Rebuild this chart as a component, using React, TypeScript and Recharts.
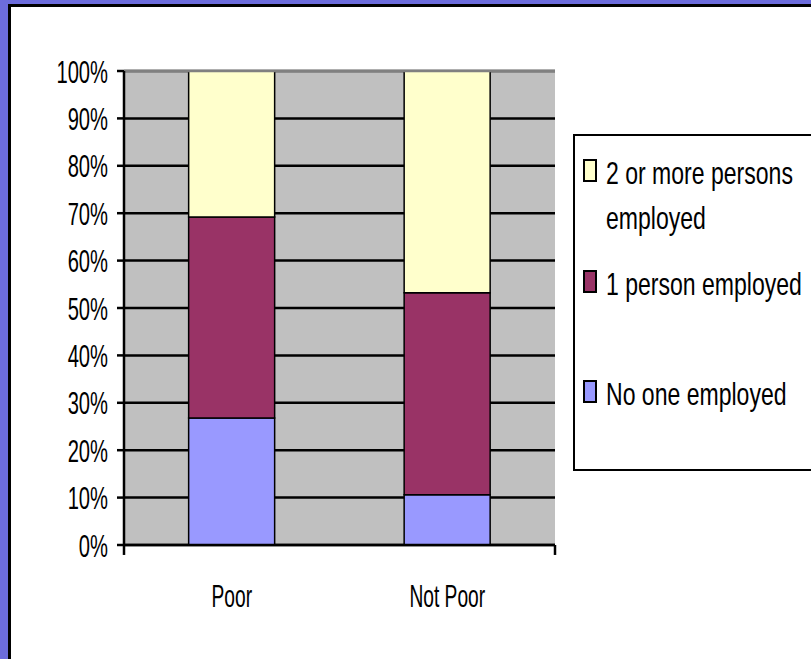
import React from "react";
import {
  BarChart,
  Bar,
  XAxis,
  YAxis,
  CartesianGrid,
  Legend,
  ReferenceLine,
} from "recharts";

const categories = ["Poor", "Not Poor"];
const noOneEmployed = [26.8, 10.6];
const onePersonEmployed = [42.4, 42.6];
const twoOrMoreEmployed = [30.8, 46.8];
const seriesNames = ["No one employed", "1 person employed", "2 or more persons employed"];
const yTicks = [0, 10, 20, 30, 40, 50, 60, 70, 80, 90, 100];
const categoryEdges = [0, 1, 2];

const data = categories.map((name, i) => ({
  name,
  none: noOneEmployed[i],
  one: onePersonEmployed[i],
  two: twoOrMoreEmployed[i],
}));

const FONT = "'Liberation Sans', Arial, sans-serif";

function YTick({ x, y, payload }: any) {
  return (
    <text
      transform={`translate(${x},${y}) scale(0.63,1)`}
      textAnchor="end"
      dy="0.36em"
      fontSize={32}
      fontFamily={FONT}
      fill="#000"
    >
      {`${payload.value}%`}
    </text>
  );
}

function XTick({ x, y, payload }: any) {
  return (
    <text
      transform={`translate(${x},${y}) scale(0.6,1)`}
      textAnchor="middle"
      dy="0.71em"
      fontSize={32}
      fontFamily={FONT}
      fill="#000"
    >
      {payload.value}
    </text>
  );
}

// break long names the way the legend box does
function wrap(text: string, maxChars: number) {
  const lines: string[] = [];
  let cur = "";
  for (const w of text.split(" ")) {
    const next = cur ? cur + " " + w : w;
    if (next.length > maxChars && cur) {
      lines.push(cur);
      cur = w;
    } else cur = next;
  }
  if (cur) lines.push(cur);
  return lines;
}

const itemTops = [24, 135, 245];

function LegendBox({ payload }: any) {
  // top of the stack first
  const items = [...(payload || [])].sort(
    (a: any, b: any) => seriesNames.indexOf(b.value) - seriesNames.indexOf(a.value)
  );
  return (
    <div
      style={{
        width: 300,
        height: 333,
        border: "2.5px solid #000",
        background: "#fff",
      }}
    >
      <svg width={300} height={333}>
        {items.map((item: any, i: number) => {
          const top = itemTops[i];
          const lines = wrap(String(item.value), 18);
          return (
            <g key={item.value}>
              <rect
                x={9}
                y={top}
                width={12}
                height={21}
                fill={item.color}
                stroke="#000"
                strokeWidth={2}
              />
              {lines.map((ln, j) => (
                <text
                  key={j}
                  transform={`translate(31,${top + 24 + j * 45}) scale(0.72,1)`}
                  fontSize={32}
                  fontFamily={FONT}
                  fill="#000"
                >
                  {ln}
                </text>
              ))}
            </g>
          );
        })}
      </svg>
    </div>
  );
}

export default function App() {
  return (
    <div
      style={{
        position: "fixed",
        left: 0,
        top: 0,
        width: 811,
        height: 659,
        overflow: "hidden",
        background: "#6c6cdc",
      }}
    >
      <div
        style={{
          position: "absolute",
          left: 8,
          top: 4,
          width: 820,
          height: 680,
          background: "#fff",
          border: "3px solid #000",
        }}
      />
      <div style={{ position: "absolute", left: 0, top: 0 }}>
        <BarChart
          width={811}
          height={659}
          data={data}
          margin={{ top: 71, right: 256, bottom: 34, left: 54 }}
          barCategoryGap="30%"
        >
          <CartesianGrid
            xAxisId="cat"
            vertical={false}
            fill="#c0c0c0"
            stroke="#000"
            strokeWidth={2.5}
            fillOpacity={1}
          />
          <XAxis
            xAxisId="cat"
            dataKey="name"
            height={80}
            tickLine={false}
            tickSize={0}
            tickMargin={39}
            tick={<XTick />}
            axisLine={{ stroke: "#000", strokeWidth: 2.5 }}
          />
          <XAxis
            xAxisId="edges"
            type="number"
            domain={[0, 2]}
            ticks={categoryEdges}
            hide
          />
          <YAxis
            domain={[0, 100]}
            ticks={yTicks}
            interval={0}
            width={70}
            tickSize={7}
            tickMargin={9}
            tick={<YTick />}
            tickLine={{ stroke: "#000", strokeWidth: 2.5 }}
            axisLine={{ stroke: "#000", strokeWidth: 2.5 }}
          />
          <Bar
            xAxisId="cat"
            dataKey="none"
            name={seriesNames[0]}
            stackId="a"
            fill="#9999ff"
            stroke="#000"
            strokeWidth={1.5}
            isAnimationActive={false}
          />
          <Bar
            xAxisId="cat"
            dataKey="one"
            name={seriesNames[1]}
            stackId="a"
            fill="#993366"
            stroke="#000"
            strokeWidth={1.5}
            isAnimationActive={false}
          />
          <Bar
            xAxisId="cat"
            dataKey="two"
            name={seriesNames[2]}
            stackId="a"
            fill="#ffffcc"
            stroke="#000"
            strokeWidth={1.5}
            isAnimationActive={false}
          />
          <ReferenceLine
            xAxisId="edges"
            y={100}
            stroke="#808080"
            strokeWidth={2.5}
          />
          <ReferenceLine
            xAxisId="edges"
            x={2}
            stroke="#808080"
            strokeWidth={2}
          />
          {categoryEdges.map((e) => (
            <ReferenceLine
              key={e}
              xAxisId="edges"
              ifOverflow="visible"
              segment={[
                { x: e, y: 0 },
                { x: e, y: -2.1 },
              ]}
              stroke="#000"
              strokeWidth={2.5}
            />
          ))}
          <Legend
            layout="vertical"
            align="center"
            verticalAlign="middle"
            content={<LegendBox />}
            wrapperStyle={{ left: 573, top: 134, width: 310, height: 340 }}
          />
        </BarChart>
      </div>
    </div>
  );
}
